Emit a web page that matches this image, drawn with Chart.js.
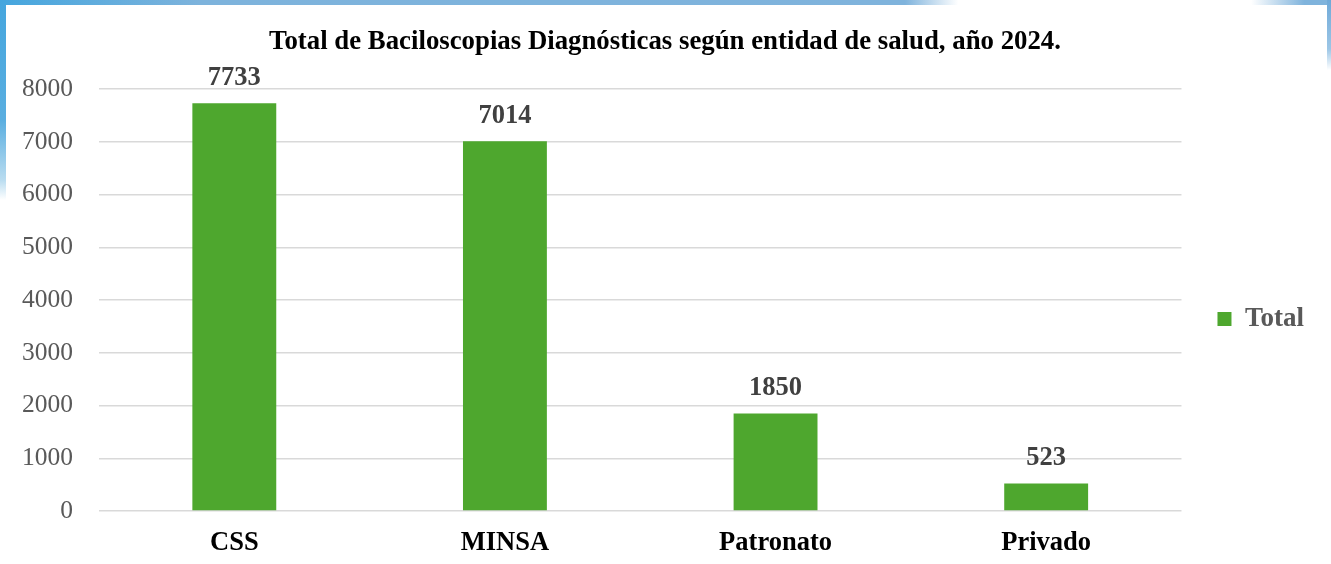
<!DOCTYPE html>
<html>
<head>
<meta charset="utf-8">
<script src="https://cdn.jsdelivr.net/npm/chart.js@4"></script>
<style>
  html, body { margin: 0; padding: 0; }
  body {
    width: 1331px;
    height: 564px;
    position: relative;
    overflow: hidden;
    background: #ffffff;
  }
  .edge { position: absolute; }
  #edgeTop {
    left: 0; top: 0; width: 1331px; height: 5px;
    background: linear-gradient(to right, #45a6de 0%, #7db3dc 15%, #7fb3dc 68%, #ffffff 72%, #ffffff 94%, #7fb3dc 98%);
  }
  #edgeLeft {
    left: 0; top: 0; width: 6px; height: 200px;
    background: linear-gradient(to bottom, #45a6de 0%, #5aaee0 60%, #b9dcf0 90%, #ffffff 100%);
  }
  #edgeRight {
    left: 1327px; top: 0; width: 4px; height: 70px;
    background: linear-gradient(to bottom, #6fa9d8 0%, #9cc6e6 70%, #ffffff 100%);
  }
  #wrap {
    position: absolute;
    left: 0;
    top: 0;
    width: 1331px;
    height: 564px;
  }
</style>
</head>
<body>
<div class="edge" id="edgeTop"></div>
<div class="edge" id="edgeLeft"></div>
<div class="edge" id="edgeRight"></div>
<div id="wrap"><canvas id="chart"></canvas></div>
<script>
const categories = ["CSS", "MINSA", "Patronato", "Privado"]
const totals = [7733, 7014, 1850, 523]
const yTicks = [0, 1000, 2000, 3000, 4000, 5000, 6000, 7000, 8000]

const serif = "'Liberation Serif', 'Times New Roman', serif"

// draws the value above each bar
const valueLabels = {
  id: "valueLabels",
  afterDatasetsDraw(chart) {
    const ctx = chart.ctx
    const meta = chart.getDatasetMeta(0)
    ctx.save()
    ctx.font = "bold 26.5px " + serif
    ctx.fillStyle = "#404040"
    ctx.textAlign = "center"
    ctx.textBaseline = "middle"
    meta.data.forEach((bar, i) => {
      ctx.fillText(String(totals[i]), bar.x, bar.y - 25)
    })
    ctx.restore()
  },
}

new Chart(document.getElementById("chart"), {
  type: "bar",
  data: {
    labels: categories,
    datasets: [
      {
        label: "Total",
        data: totals,
        backgroundColor: "#4ea72e",
        borderWidth: 0,
        barPercentage: 0.31,
        categoryPercentage: 1,
      },
    ],
  },
  options: {
    responsive: true,
    maintainAspectRatio: false,
    animation: false,
    layout: {
      padding: { left: 16, right: 17, top: 0, bottom: 0 },
    },
    plugins: {
      title: {
        display: true,
        text: "Total de Baciloscopias Diagnósticas según entidad de salud, año 2024.",
        color: "#000000",
        font: { family: serif, size: 26.8, weight: "bold", lineHeight: 1.2 },
        padding: { top: 26, bottom: 31 },
      },
      legend: {
        position: "right",
        title: {
          display: true,
          text: " ",
          font: { size: 10 },
          padding: { top: 0, bottom: 62 },
        },
        labels: {
          color: "#595959",
          font: { family: serif, size: 27, weight: "bold" },
          boxWidth: 14,
          boxHeight: 14,
          padding: 36,
        },
      },
      tooltip: { enabled: false },
    },
    scales: {
      x: {
        afterFit: axis => {
          axis.height = 53
        },
        grid: { display: false, drawTicks: false },
        border: { display: false },
        ticks: {
          color: "#000000",
          font: { family: serif, size: 26.5, weight: "bold" },
          padding: 16,
        },
      },
      y: {
        min: 0,
        max: 8000,
        afterBuildTicks: axis => {
          axis.ticks = yTicks.map(v => ({ value: v }))
        },
        afterFit: axis => {
          axis.width = 83
        },
        grid: { color: "#d9d9d9", lineWidth: 1.5, drawTicks: false },
        border: { display: false },
        ticks: {
          color: "#595959",
          font: { family: serif, size: 25.5 },
          padding: 26,
          callback: value => String(value),
        },
      },
    },
  },
  plugins: [valueLabels],
})
</script>
</body>
</html>
